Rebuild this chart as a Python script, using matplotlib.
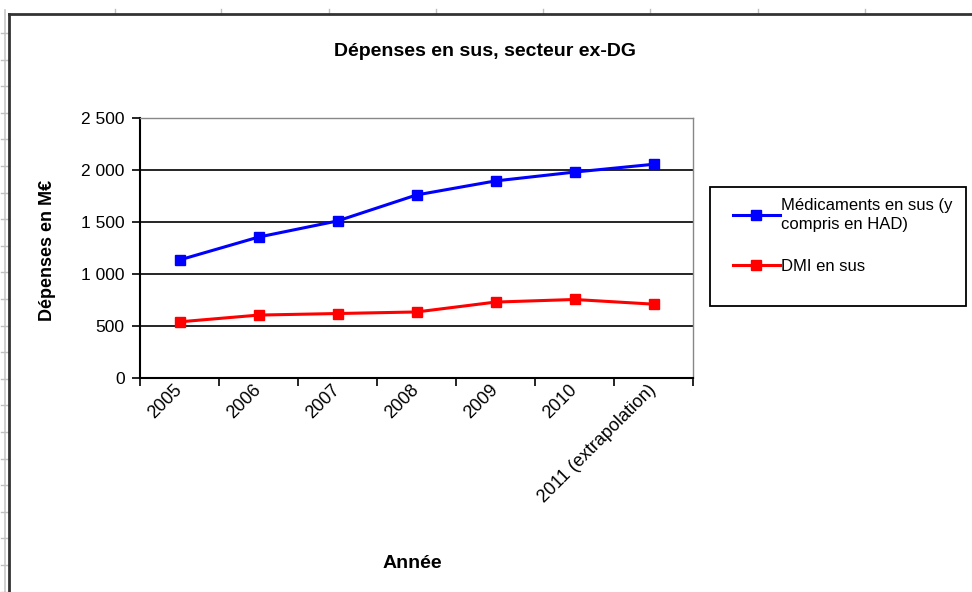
import matplotlib
matplotlib.use("Agg")
import matplotlib.pyplot as plt
from matplotlib.lines import Line2D
from matplotlib.patches import Rectangle
import numpy as np

plt.rcParams['font.family'] = ['Liberation Sans', 'DejaVu Sans']

# data (M€)
years = ["2005", "2006", "2007", "2008", "2009", "2010", "2011 (extrapolation)"]
medicaments = [1135, 1355, 1510, 1760, 1895, 1980, 2055]
dmi = [540, 605, 620, 635, 730, 755, 710]
yticks = [0, 500, 1000, 1500, 2000, 2500]


def main():
    fig = plt.figure(figsize=(9.72, 5.92), dpi=100)
    W, H = 972, 592

    # spreadsheet grid behind the chart object
    fig.add_artist(Line2D([5 / W, 5 / W], [0, 1 - 10 / H], color="#c8c8c8", lw=1.2))
    for yy in np.arange(33, 592, 26.6):
        fig.add_artist(Line2D([1 / W, 9 / W], [1 - yy / H] * 2, color="#c0c0c0", lw=1))
    for xx in [115, 221, 329, 436, 543, 650, 758, 865]:
        fig.add_artist(Line2D([xx / W] * 2, [1 - 9 / H, 1 - 14 / H], color="#c0c0c0", lw=1))
    # chart area border (top/left)
    fig.add_artist(Line2D([9 / W, 9 / W], [0, 1 - 14 / H], color="#333333", lw=2))
    fig.add_artist(Line2D([9 / W, 1], [1 - 14 / H] * 2, color="#333333", lw=2))

    ax = fig.add_axes([140 / W, 1 - 378 / H, (693 - 140) / W, (378 - 118) / H])
    x = np.arange(len(years))

    ax.plot(x, medicaments, color="#0000ff", lw=2.2, marker="s", ms=7,
            label="Médicaments en sus (y\ncompris en HAD)")
    ax.plot(x, dmi, color="#ff0000", lw=2.2, marker="s", ms=7, label="DMI en sus")

    ax.set_xlim(-0.5, len(years) - 0.5)
    ax.set_ylim(0, 2500)
    ax.set_yticks(yticks)
    ax.set_yticklabels([f"{v:,}".replace(",", " ") for v in yticks], fontsize=12.5)
    for v in yticks[1:-1]:
        ax.axhline(v, color="black", lw=1.2, zorder=0)

    ax.set_xticks(x)
    ax.set_xticklabels(years, rotation=45, ha="right", va="center", rotation_mode="anchor",
                       fontsize=13)
    ax.set_xticks(np.arange(-0.5, len(years)), minor=True)
    ax.tick_params(axis="x", which="major", length=0, pad=7)
    ax.tick_params(axis="x", which="minor", length=6, width=1.2, direction="out")
    ax.tick_params(axis="y", length=6, width=1.2, direction="out", pad=5)

    for s in ["top", "right"]:
        ax.spines[s].set_color("#888888")
        ax.spines[s].set_linewidth(1)
    for s in ["left", "bottom"]:
        ax.spines[s].set_color("black")
        ax.spines[s].set_linewidth(1.5)

    fig.text(485 / W, 1 - 52 / H, "Dépenses en sus, secteur ex-DG", ha="center", va="center",
             fontsize=14, fontweight="bold")
    fig.text(47 / W, 1 - 250 / H, "Dépenses en M€", ha="center", va="center", rotation=90,
             fontsize=13, fontweight="bold")
    fig.text(412 / W, 1 - 563 / H, "Année", ha="center", va="center",
             fontsize=14, fontweight="bold")

    # legend box
    fig.add_artist(Rectangle((710 / W, 1 - 306 / H), 256 / W, 119 / H, transform=fig.transFigure,
                             facecolor="white", edgecolor="black", lw=1.3))
    leg = fig.legend(loc="upper left", bbox_to_anchor=(733 / W, 1 - 198 / H), frameon=False,
                     fontsize=12, handlelength=2.8, handletextpad=0.1, labelspacing=1.6,
                     borderaxespad=0, borderpad=0)
    for t in leg.get_texts():
        t.set_linespacing(1.35)

    fig.savefig("out.png", dpi=100)


if __name__ == "__main__":
    main()
